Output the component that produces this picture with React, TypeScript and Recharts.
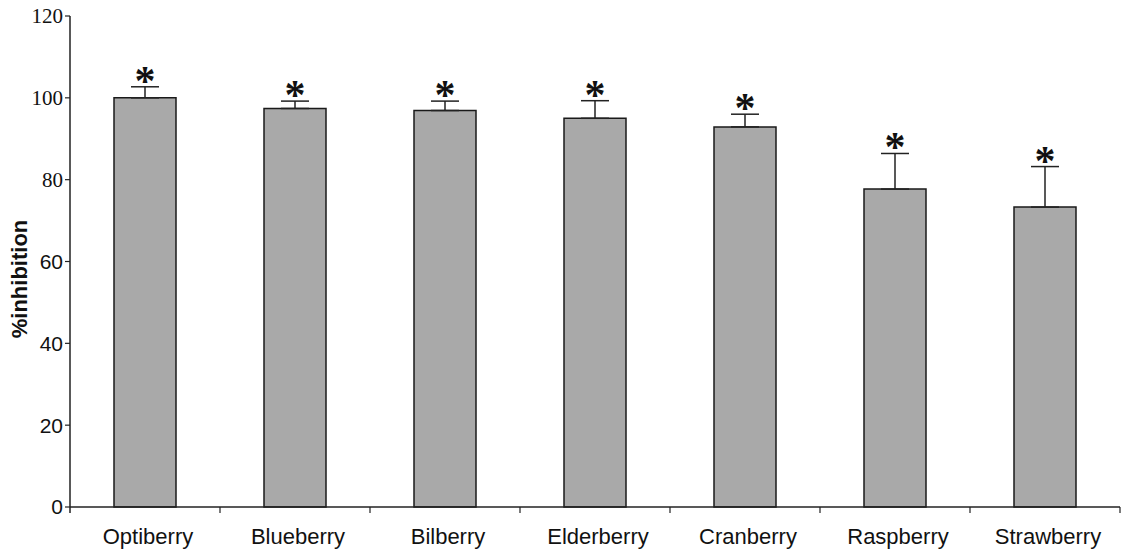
import React from 'react';
import { ComposedChart, Bar, ErrorBar, Scatter, XAxis, YAxis } from 'recharts';

const categories = ['Optiberry', 'Blueberry', 'Bilberry', 'Elderberry', 'Cranberry', 'Raspberry', 'Strawberry'];
const inhibition = [100, 97.4, 96.9, 95, 92.9, 77.7, 73.3];
const errorTop = [102.7, 99.2, 99.2, 99.3, 96, 86.4, 83.2];
const yTicks = [0, 20, 40, 60, 80, 100, 120];

const data = categories.map((name, i) => ({
  name,
  value: inhibition[i],
  err: [0, +(errorTop[i] - inhibition[i]).toFixed(2)],
  top: errorTop[i],
}));

const YTick = (props: any) => {
  const { x, y, payload } = props;
  const serif = payload.value >= 80;
  return (
    <text x={x} y={y} dy="0.35em" textAnchor="end" fontSize={21}
      fontFamily={serif ? 'Liberation Serif' : 'Liberation Sans'} fill="#111">
      {payload.value}
    </text>
  );
};

const XTick = (props: any) => {
  const { x, y, payload, index } = props;
  const half = payload && payload.offset ? payload.offset : 75;
  return (
    <g>
      <line x1={x + half} x2={x + half} y1={y - 8} y2={y - 2} stroke="#222" strokeWidth={1.2} />
      {index === 0 && <line x1={x - half} x2={x - half} y1={y - 8} y2={y - 2} stroke="#222" strokeWidth={1.5} />}
      <text x={x + 3} y={y + 29} textAnchor="middle" fontSize={22} fontFamily="Liberation Sans" fill="#111">
        {payload.value}
      </text>
    </g>
  );
};

const Star = (props: any) => {
  const { cx, cy } = props;
  return (
    <text x={cx} y={cy + 8} textAnchor="middle" fontSize={42} fontWeight="bold"
      fontFamily="Liberation Serif" fill="#111">*</text>
  );
};

export default function App() {
  return (
    <div style={{ width: 1122, height: 549, background: '#fff' }}>
      <style>{`body{margin:0}`}</style>
      <ComposedChart width={1122} height={549} data={data}
        margin={{ top: 16, right: 2, left: 0, bottom: 0 }}>
        <XAxis dataKey="name" height={42} tickSize={6} tickMargin={2} tickLine={false}
          axisLine={{ stroke: '#222', strokeWidth: 1.5 }} tick={<XTick />} interval={0} />
        <YAxis domain={[0, 120]} ticks={yTicks} width={70} tickSize={5} tickMargin={2}
          axisLine={{ stroke: '#222', strokeWidth: 1.5 }} tickLine={{ stroke: '#222', strokeWidth: 1.2 }}
          tick={<YTick />} interval={0}
          label={{
            content: () => (
              <text x={27} y={279} transform="rotate(-90 27 279)" textAnchor="middle"
                fontSize={22} fontWeight="bold" fontFamily="Liberation Sans" fill="#111">%inhibition</text>
            ),
          }} />
        <Bar dataKey="value" fill="#a9a9a9" stroke="#1a1a1a" strokeWidth={1.5} barSize={62}
          isAnimationActive={false}>
          <ErrorBar dataKey="err" width={14} strokeWidth={1.5} stroke="#222" direction="y"
            isAnimationActive={false} />
        </Bar>
        <Scatter dataKey="top" shape={<Star />} isAnimationActive={false} />
      </ComposedChart>
    </div>
  );
}
